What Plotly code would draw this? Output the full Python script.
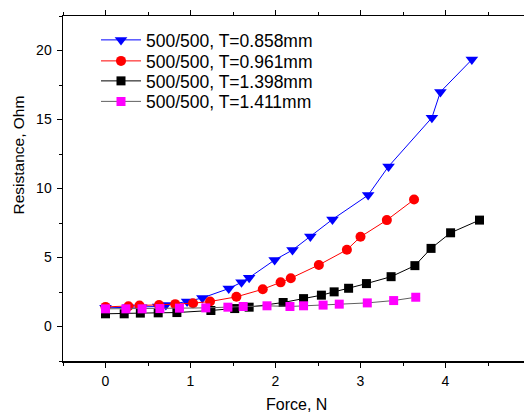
import plotly.graph_objects as go

# Data
blue_x = [0, 0.27, 0.42, 0.62, 0.71, 0.96, 1.14, 1.45, 1.60, 1.69, 1.99, 2.20, 2.41, 2.67, 3.09, 3.33, 3.84, 3.94, 4.31]
blue_y = [1.35, 1.40, 1.40, 1.45, 1.55, 1.81, 2.07, 2.75, 3.20, 3.54, 4.82, 5.54, 6.53, 7.76, 9.52, 11.6, 15.13, 17.0, 19.34]

red_x = [0, 0.27, 0.40, 0.63, 0.82, 1.03, 1.23, 1.54, 1.85, 2.06, 2.18, 2.51, 2.84, 3.00, 3.31, 3.63]
red_y = [1.42, 1.47, 1.52, 1.55, 1.62, 1.69, 1.81, 2.15, 2.70, 3.20, 3.50, 4.46, 5.56, 6.50, 7.71, 9.20]

black_x = [0, 0.22, 0.41, 0.62, 0.84, 1.24, 1.52, 1.69, 2.09, 2.33, 2.54, 2.69, 2.86, 3.07, 3.36, 3.64, 3.83, 4.06, 4.40]
black_y = [0.92, 0.92, 0.97, 0.99, 1.01, 1.16, 1.30, 1.40, 1.74, 2.02, 2.27, 2.51, 2.77, 3.11, 3.61, 4.41, 5.66, 6.79, 7.71]

mag_x = [0, 0.24, 0.43, 0.64, 0.87, 1.18, 1.44, 1.62, 1.90, 2.17, 2.33, 2.56, 2.75, 3.08, 3.39, 3.65]
mag_y = [1.28, 1.28, 1.28, 1.30, 1.33, 1.35, 1.40, 1.45, 1.50, 1.45, 1.50, 1.55, 1.62, 1.71, 1.88, 2.12]

names = ["500/500, T=0.858mm", "500/500, T=0.961mm", "500/500, T=1.398mm", "500/500, T=1.411mm"]
x_ticks = [0, 1, 2, 3, 4]
y_ticks = [0, 5, 10, 15, 20]

font = "Liberation Sans, Arial, sans-serif"

# plot area geometry (pixels)
W, H = 524, 412
ML, MR, MT, MB = 63, 0, 16, 51
PW, PH = W - ML - MR, H - MT - MB
X_MAX = -0.5 + PW / 85.0

fig = go.Figure()
fig.add_trace(go.Scatter(x=blue_x, y=blue_y, name=names[0], mode="lines+markers", legend="legend",
                         line=dict(color="#0000ff", width=1),
                         marker=dict(symbol="triangle-down", size=11, color="#0000ff")))
fig.add_trace(go.Scatter(x=red_x, y=red_y, name=names[1], mode="lines+markers", legend="legend2",
                         line=dict(color="#ff0000", width=1),
                         marker=dict(symbol="circle", size=10, color="#ff0000")))
fig.add_trace(go.Scatter(x=black_x, y=black_y, name=names[2], mode="lines+markers", legend="legend3",
                         line=dict(color="#000000", width=1),
                         marker=dict(symbol="square", size=9, color="#000000")))
fig.add_trace(go.Scatter(x=mag_x, y=mag_y, name=names[3], mode="lines+markers", legend="legend4",
                         line=dict(color="#606060", width=1),
                         marker=dict(symbol="square", size=9, color="#ff00ff")))

row_px = [40, 61, 81, 101.5]
leg_left_px = 96


def leg(rp):
    return dict(x=(leg_left_px - ML) / PW, y=(H - MB - rp) / PH, xanchor="left", yanchor="middle",
                bgcolor="rgba(0,0,0,0)", font=dict(size=17.5, family=font, color="#000"),
                itemwidth=40, borderwidth=0)


fig.update_layout(
    width=W, height=H,
    margin=dict(l=ML, r=MR, t=MT, b=MB, autoexpand=False),
    paper_bgcolor="white", plot_bgcolor="white",
    font=dict(family=font, color="#000000", size=14),
    showlegend=True, hovermode=False, dragmode=False,
    legend=leg(row_px[0]), legend2=leg(row_px[1]), legend3=leg(row_px[2]), legend4=leg(row_px[3]),
    xaxis=dict(range=[-0.5, X_MAX], tickvals=x_ticks, ticks="outside", ticklen=5,
               tickwidth=1, tickcolor="#000", showline=True, linecolor="#000", linewidth=1.5,
               mirror="ticks", showgrid=False, zeroline=False, automargin=False,
               minor=dict(dtick=0.5, tick0=0, ticks="outside", ticklen=3, tickcolor="#000"),
               tickfont=dict(size=14), ticklabelstandoff=2),
    yaxis=dict(range=[-2.5, 22.5], tickvals=y_ticks, ticks="outside", ticklen=5,
               tickwidth=1, tickcolor="#000", showline=True, linecolor="#000", linewidth=1.5,
               showgrid=False, zeroline=False, automargin=False,
               minor=dict(dtick=2.5, tick0=0, ticks="outside", ticklen=3, tickcolor="#000"),
               tickfont=dict(size=14), ticklabelstandoff=2),
    annotations=[
        dict(text="Force, N", xref="paper", yref="paper", x=(296.5 - ML) / PW, y=(H - MB - 404) / PH,
             xanchor="center", yanchor="middle", showarrow=False, font=dict(size=16)),
        dict(text="Resistance, Ohm", xref="paper", yref="paper", x=(17.5 - ML) / PW, y=(H - MB - 155) / PH,
             xanchor="center", yanchor="middle", textangle=-90, showarrow=False, font=dict(size=15.5)),
    ],
)

fig.write_html("out.html", config={"displayModeBar": False, "staticPlot": True},
               post_script=("document.body.style.margin='0px';"
                            "document.body.style.overflow='hidden';"
                            "document.documentElement.style.overflow='hidden';"))
